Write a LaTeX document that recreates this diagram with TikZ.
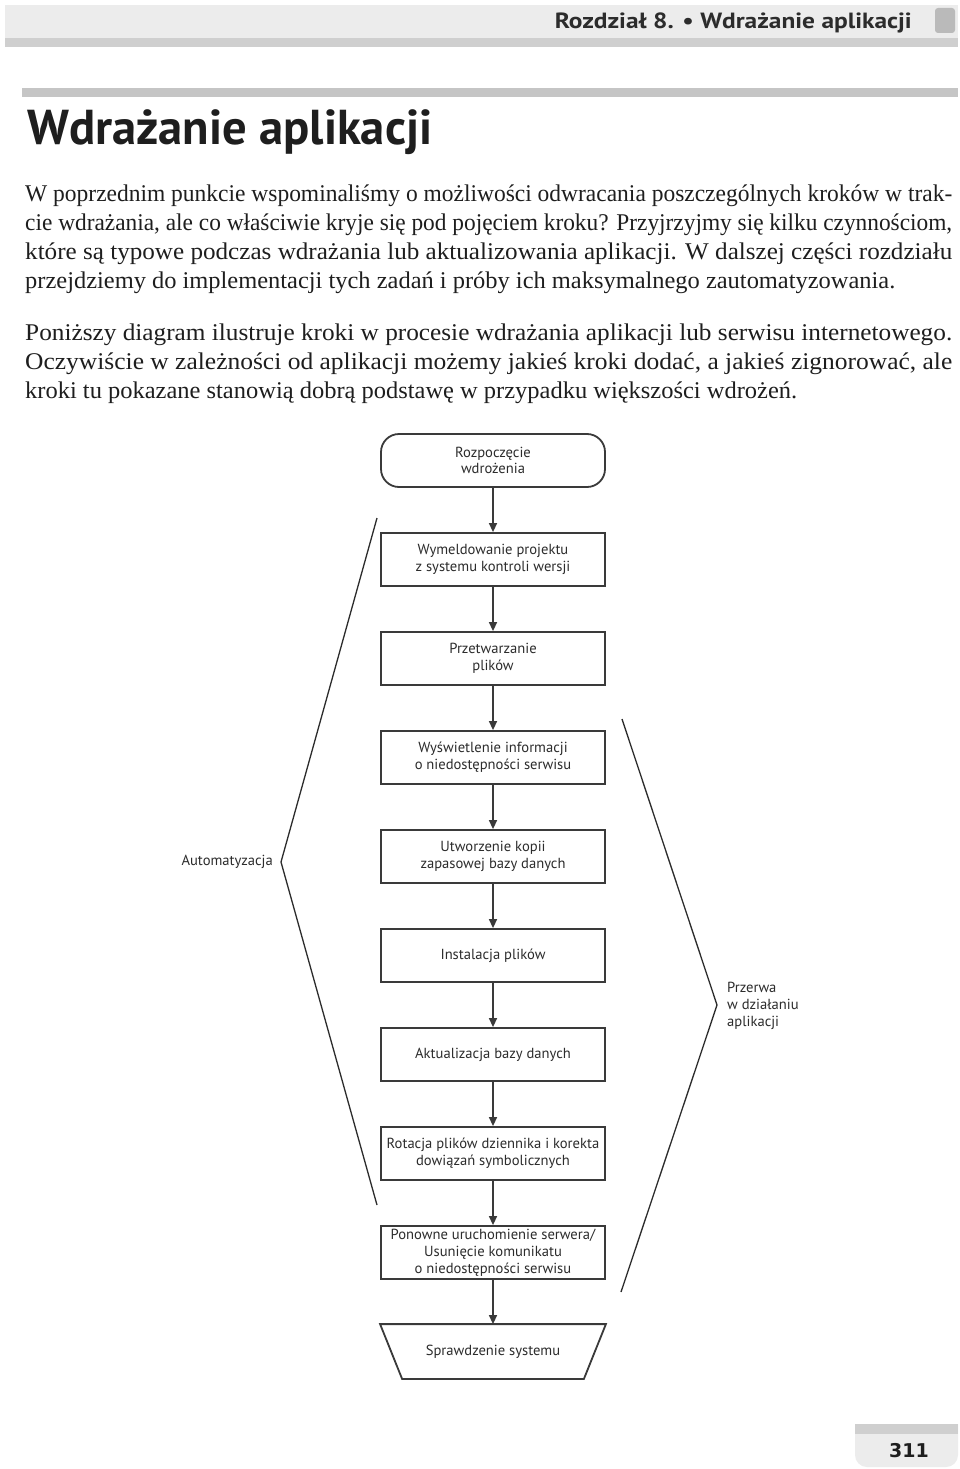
\documentclass[tikz,border=0pt]{standalone}
\usepackage{fontspec}
\setmainfont{Liberation Serif}
\setsansfont{PT Sans}
\newfontfamily\numfont{DejaVu Sans}
\usetikzlibrary{arrows.meta}
\definecolor{ramka}{HTML}{3A3A3A}
\definecolor{napis}{HTML}{2C2C2C}
\definecolor{tekstc}{HTML}{1E1E1E}
\definecolor{pasekj}{HTML}{ECECEC}
\definecolor{pasekc}{HTML}{CFCFCF}
\tikzset{krok/.style={draw=ramka,line width=1.8,minimum width=224,minimum height=53,inner sep=2,align=center,text=napis,font=\sffamily\fontsize{14.6}{16.8}\selectfont},
	strzalka/.style={draw=ramka,line width=1.4,-{Triangle[width=8,length=9]}},
	klamra/.style={draw=napis,line width=1.3},
	boczny/.style={text=napis,inner sep=0,font=\sffamily\fontsize{14.6}{17}\selectfont},
	tekst/.style={inner sep=0,text=tekstc,font=\fontsize{24}{29}\selectfont}}
\newcommand\wiersz[4]{\node[tekst,anchor=base west] (#1) at (25,#2) {\resizebox{#3pt}{\height}{#4}};}

\begin{document}
\begin{tikzpicture}[x=1pt,y=-1pt]
	\useasboundingbox (0,0) rectangle (960,1469);
	\fill[white] (0,0) rectangle (960,1469);
	% naglowek strony
	\fill[pasekj] (5,5) rectangle (958,38);
	\fill[pasekc] (5,38) rectangle (958,47);
	\fill[pasekc!90!black,rounded corners=3] (935,8) rectangle (955,33);
	\node[anchor=base east,inner sep=0,text=napis] (rozdz) at (912,29) {\resizebox{357pt}{\height}{\sffamily\bfseries\fontsize{22}{22}\selectfont Rozdział 8. • Wdrażanie aplikacji}};
	\fill[pasekc!95!black] (22,88) rectangle (958,97);
	\node[anchor=base west,inner sep=0,text=tekstc] (tytul) at (27,144) {\resizebox{405pt}{\height}{\sffamily\bfseries\fontsize{49}{49}\selectfont Wdrażanie aplikacji}};
	% tekst
	\wiersz{l1}{201}{927}{W poprzednim punkcie wspominaliśmy o możliwości odwracania poszczególnych kroków w trak-}
	\wiersz{l2}{230}{927}{cie wdrażania, ale co właściwie kryje się pod pojęciem kroku? Przyjrzyjmy się kilku czynnościom,}
	\wiersz{l3}{259}{927}{które są typowe podczas wdrażania lub aktualizowania aplikacji. W dalszej części rozdziału}
	\wiersz{l4}{288}{870}{przejdziemy do implementacji tych zadań i próby ich maksymalnego zautomatyzowania.}
	\wiersz{l5}{340}{927}{Poniższy diagram ilustruje kroki w procesie wdrażania aplikacji lub serwisu internetowego.}
	\wiersz{l6}{369}{927}{Oczywiście w zależności od aplikacji możemy jakieś kroki dodać, a jakieś zignorować, ale}
	\wiersz{l7}{398}{772}{kroki tu pokazane stanowią dobrą podstawę w przypadku większości wdrożeń.}
	% diagram
	\def\xs{493}
	\node[krok,rounded corners=18] (start) at (\xs,460.5) {Rozpoczęcie\\wdrożenia};
	\node[krok] (wymeld) at (\xs,559.5) {Wymeldowanie projektu\\z systemu kontroli wersji};
	\node[krok] (przetw) at (\xs,658.5) {Przetwarzanie\\plików};
	\node[krok] (info) at (\xs,757.5) {Wyświetlenie informacji\\o niedostępności serwisu};
	\node[krok] (kopia) at (\xs,856.5) {Utworzenie kopii\\zapasowej bazy danych};
	\node[krok] (instal) at (\xs,955.5) {Instalacja plików};
	\node[krok] (aktual) at (\xs,1054.5) {Aktualizacja bazy danych};
	\node[krok] (rotacja) at (\xs,1153.5) {Rotacja plików dziennika i korekta\\dowiązań symbolicznych};
	\node[krok] (restart) at (\xs,1252.5) {Ponowne uruchomienie serwera/\\Usunięcie komunikatu\\o niedostępności serwisu};
	\node[krok,draw=none] (spr) at (\xs,1351.5) {Sprawdzenie systemu};
	\draw[draw=ramka,line width=1.8,line join=miter] (spr.north west) -- (spr.north east) -- ([xshift=-22]spr.south east) -- ([xshift=22]spr.south west) -- cycle;
	\foreach \a/\b in {start/wymeld,wymeld/przetw,przetw/info,info/kopia,kopia/instal,instal/aktual,aktual/rotacja,rotacja/restart,restart/spr}
		\draw[strzalka] (\a.south) -- (\b.north);
	% klamry
	\draw[klamra] (377,518) -- (281,862) -- (377,1205);
	\node[boczny,anchor=east] (auto) at (273,862) {Automatyzacja};
	\draw[klamra] (622,719) -- (717,1005) -- (621,1292);
	\node[boczny,anchor=west,align=left] (przerwa) at (727,1006) {Przerwa\\w działaniu\\aplikacji};
	% numer strony
	\fill[pasekj] (855,1424) [rounded corners=12] -- (855,1467) -- (958,1467) [sharp corners] -- (958,1424) -- cycle;
	\fill[pasekc] (855,1424) rectangle (958,1434);
	\node[inner sep=0,text=tekstc,font=\numfont\bfseries\fontsize{19}{19}\selectfont] (nr) at (909,1451) {311};
\end{tikzpicture}
\end{document}
